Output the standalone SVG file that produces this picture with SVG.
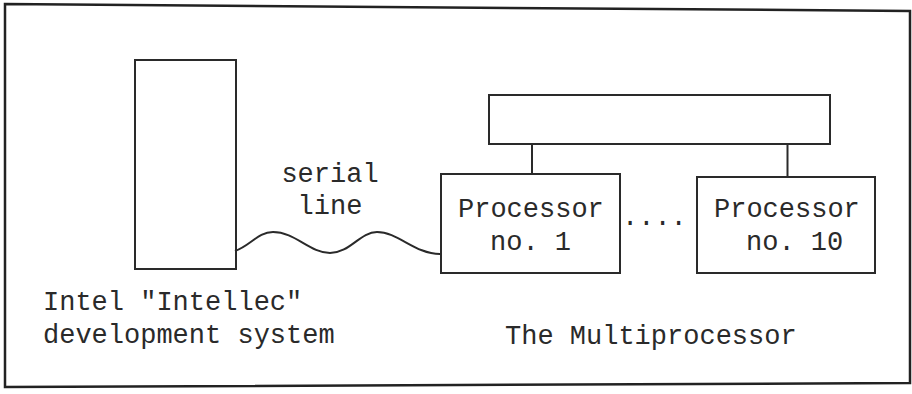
<svg xmlns="http://www.w3.org/2000/svg" width="912" height="394" viewBox="0 0 912 394">
<style>
.box{fill:none;stroke:#2a2a2a;stroke-width:2}
.ln{fill:none;stroke:#2a2a2a;stroke-width:2}
.t{font-family:"Liberation Mono","Courier New",monospace;font-size:27px;fill:#2a2a2a}
</style>
<rect width="912" height="394" fill="#fff"/>
<polygon points="5,4 910,11 910,383 5,387" fill="none" stroke="#222" stroke-width="2.5"/>
<g id="intellec">
<rect class="box" x="135" y="60" width="101" height="209"/>
<text class="t" x="43" y="310">Intel "Intellec"</text>
<text class="t" x="43" y="343">development system</text>
</g>
<g id="bus">
<rect class="box" x="489" y="95" width="341" height="49"/>
</g>
<g id="proc1">
<rect class="box" x="441" y="174" width="179" height="99"/>
<text class="t" x="458" y="217">Processor</text>
<text class="t" x="490" y="250">no. 1</text>
</g>
<g id="proc10">
<rect class="box" x="697" y="177" width="178" height="96"/>
<text class="t" x="714" y="217">Processor</text>
<text class="t" x="746" y="250">no. 10</text>
</g>
<g id="labels">
<text class="t" x="330" y="182" text-anchor="middle">serial</text>
<text class="t" x="330" y="214" text-anchor="middle">line</text>
<text class="t" x="622" y="225">....</text>
<text class="t" x="505" y="344">The Multiprocessor</text>
</g>
<g id="connectors">
<path class="ln" d="M235,251 C250,246 258,232 273,232 C295,232 310,253 330,253 C350,253 360,232 377,232 C398,232 415,254 440,254"/>
<line class="ln" x1="532" y1="144" x2="532" y2="174"/>
<line class="ln" x1="787.5" y1="144" x2="787.5" y2="177"/>
</g>
</svg>
